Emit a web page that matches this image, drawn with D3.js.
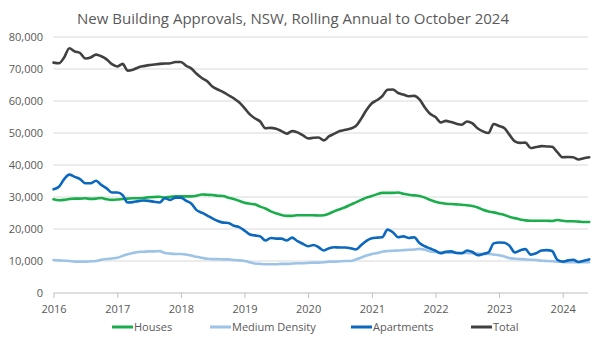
<!DOCTYPE html>
<html>
<head>
<meta charset="utf-8">
<script src="https://cdn.jsdelivr.net/npm/d3@7"></script>
<style>
    body { margin: 0; background: #fff; }
    svg text { font-family: "Open Sans", sans-serif; fill: #595959; }
</style>
</head>
<body>
<svg class="chart" width="601" height="347"></svg>
<script>
// monthly rolling annual totals from Jan 2016, thousands of dwellings
var startYear = 2016, startMonth = 0;

var houses = [29.3, 29.0, 29.1, 29.4, 29.5, 29.5, 29.6, 29.4, 29.5, 29.7, 29.3, 29.1,
    29.2, 29.4, 29.5, 29.6, 29.6, 29.7, 29.9, 30.0, 30.1, 29.8, 30.1, 30.2,
    30.2, 30.2, 30.2, 30.4, 30.8, 30.7, 30.6, 30.4, 30.3, 29.8, 29.4, 28.8,
    28.2, 27.9, 27.7, 27.0, 26.4, 25.5, 24.9, 24.4, 24.1, 24.1, 24.3, 24.3,
    24.3, 24.3, 24.2, 24.3, 24.8, 25.6, 26.2, 26.8, 27.6, 28.3, 29.1, 29.8,
    30.3, 30.9, 31.3, 31.3, 31.3, 31.4, 31.0, 30.7, 30.5, 30.3, 29.8, 29.1,
    28.5, 28.1, 27.9, 27.8, 27.7, 27.6, 27.4, 27.2, 26.7, 26.0, 25.5, 25.2,
    24.8, 24.4, 23.8, 23.4, 23.0, 22.7, 22.6, 22.6, 22.6, 22.6, 22.5, 22.8,
    22.6, 22.4, 22.4, 22.3, 22.2, 22.2];

var mediumDensity = [10.3, 10.2, 10.1, 10.0, 9.8, 9.8, 9.8, 9.9, 10.0, 10.4, 10.6, 10.8,
    11.0, 11.6, 12.1, 12.5, 12.8, 12.9, 13.0, 13.0, 13.1, 12.5, 12.3, 12.2,
    12.2, 12.0, 11.7, 11.3, 11.0, 10.7, 10.6, 10.6, 10.5, 10.5, 10.3, 10.2,
    10.0, 9.6, 9.2, 9.1, 9.0, 9.0, 9.0, 9.1, 9.1, 9.2, 9.3, 9.3,
    9.4, 9.5, 9.5, 9.6, 9.8, 9.8, 9.9, 10.0, 10.0, 10.5, 11.1, 11.7,
    12.2, 12.5, 12.9, 13.1, 13.2, 13.3, 13.4, 13.5, 13.6, 13.8, 13.5, 13.0,
    12.8, 12.7, 12.6, 12.6, 12.6, 12.6, 12.5, 12.4, 12.3, 12.2, 12.2, 12.0,
    11.8, 11.4, 10.9, 10.7, 10.6, 10.5, 10.4, 10.3, 10.1, 10.0, 9.9, 9.8,
    9.7, 9.6, 9.6, 9.6, 9.6, 9.6];

var apartments = [32.4, 33.2, 35.5, 37.0, 36.3, 35.6, 34.3, 34.3, 35.1, 33.8, 32.7, 31.4,
    31.4, 30.6, 28.3, 28.4, 28.7, 28.9, 28.8, 28.5, 28.3, 29.6, 29.1, 29.8,
    29.8, 28.8, 28.0, 25.9, 25.1, 24.2, 23.3, 22.5, 22.0, 21.9, 21.0, 20.6,
    19.5, 18.3, 18.0, 17.7, 16.4, 17.2, 17.0, 17.0, 16.4, 17.3, 16.2, 15.4,
    14.6, 15.0, 14.3, 13.3, 14.0, 14.3, 14.2, 14.2, 14.0, 13.6, 15.0, 16.3,
    17.1, 17.3, 17.4, 19.8, 19.0, 17.4, 17.7, 17.2, 17.4, 15.6, 14.6, 13.9,
    13.2, 12.4, 12.9, 13.0, 12.5, 12.4, 13.3, 12.8, 11.8, 12.2, 12.7, 15.5,
    15.8, 15.7, 14.8, 12.7, 13.3, 13.7, 12.0, 12.4, 13.3, 13.4, 13.1, 10.4,
    9.8, 10.2, 10.4, 9.7, 10.1, 10.5];

var total = [72.0, 71.8, 73.5, 76.5, 75.5, 75.0, 73.3, 73.6, 74.5, 74.0, 73.0, 71.5,
    70.8, 71.6, 69.5, 69.8, 70.5, 70.9, 71.2, 71.4, 71.6, 71.7, 71.8, 72.2,
    72.2, 71.0, 70.2, 68.5, 67.2, 66.2, 64.5, 63.6, 62.8, 61.8, 60.8, 59.6,
    57.8, 55.8, 54.6, 53.6, 51.5, 51.6, 51.3, 50.6, 49.8, 50.6, 50.2, 49.3,
    48.3, 48.5, 48.6, 47.7, 49.0, 49.8, 50.6, 51.0, 51.4, 52.2, 54.5, 57.2,
    59.3, 60.3, 61.5, 63.5, 63.6, 62.5, 62.0, 61.5, 61.6, 60.5, 58.0, 56.0,
    55.0, 53.3, 53.8, 53.4, 52.9, 52.6, 53.6, 53.0, 51.4, 50.5, 50.0, 52.8,
    52.2, 51.5, 49.5, 47.4, 46.9, 47.0, 45.3, 45.6, 45.9, 45.8, 45.7, 44.0,
    42.4, 42.5, 42.4, 41.7, 42.1, 42.4];

var seriesNames = ["Houses", "Medium Density", "Apartments", "Total"];
var seriesColors = ["#1aad4b", "#9dc3e6", "#0b68be", "#404040"];
var yTicks = [0, 10000, 20000, 30000, 40000, 50000, 60000, 70000, 80000];
var xTickYears = [2016, 2017, 2018, 2019, 2020, 2021, 2022, 2023, 2024];
var title = "New Building Approvals, NSW, Rolling Annual to October 2024";

var svg = d3.select("svg.chart");

var x = d3.scaleTime()
    .domain([new Date(2016, 0, 1), new Date(2024, 0, 1)])
    .range([53.5, 562.7]);
var y = d3.scaleLinear().domain([0, 80000]).range([293, 37]);
var plotRight = 588;

function monthDate(i) {
    return new Date(startYear, startMonth + i, 1);
}

// gridlines
svg.selectAll(".grid")
    .data(yTicks.slice(1))
    .enter()
        .append("line")
        .attr("class", "grid")
        .attr("x1", 53.5)
        .attr("x2", plotRight)
        .attr("y1", function(d) { return y(d); })
        .attr("y2", function(d) { return y(d); })
        .attr("stroke", "#d9d9d9")
        .attr("stroke-width", 1);

// y labels
svg.selectAll(".ylab")
    .data(yTicks)
    .enter()
        .append("text")
        .attr("class", "ylab")
        .attr("x", 43)
        .attr("y", function(d) { return y(d); })
        .attr("dy", "0.35em")
        .attr("text-anchor", "end")
        .attr("font-size", "11px")
        .text(function(d) { return d3.format(",")(d); });

// x axis
var xAxis = d3.axisBottom(x)
    .tickValues(xTickYears.map(function(yr) { return new Date(yr, 0, 1); }))
    .tickFormat(d3.timeFormat("%Y"))
    .tickSize(5)
    .tickPadding(7);

var gx = svg.append("g")
    .attr("transform", "translate(0,293)")
    .call(xAxis);
gx.select(".domain").remove();
gx.append("line")
    .attr("x1", 53.5).attr("x2", plotRight)
    .attr("stroke", "#bfbfbf");
gx.selectAll(".tick line").attr("stroke", "#bfbfbf");
gx.selectAll(".tick text")
    .attr("font-size", "11px")
    .attr("font-family", "'Open Sans', sans-serif")
    .attr("fill", "#595959");

// lines
var allSeries = [houses, mediumDensity, apartments, total];
var line = d3.line()
    .x(function(d, i) { return x(monthDate(i)); })
    .y(function(d) { return y(d * 1000); })
    .curve(d3.curveMonotoneX);

svg.selectAll(".series")
    .data(allSeries)
    .enter()
        .append("path")
        .attr("class", "series")
        .attr("d", function(d) { return line(d); })
        .attr("fill", "none")
        .attr("stroke", function(d, i) { return seriesColors[i]; })
        .attr("stroke-width", 2.6)
        .attr("stroke-linejoin", "round")
        .attr("stroke-linecap", "round");

// title
svg.append("text")
    .attr("x", 77)
    .attr("y", 24)
    .attr("font-size", "15px")
    .text(title);

// legend
var legendX = [112, 210, 351, 471];
var legend = svg.selectAll(".legend")
    .data(seriesNames)
    .enter()
        .append("g")
        .attr("class", "legend")
        .attr("transform", function(d, i) { return "translate(" + legendX[i] + ",327)"; });

legend.append("line")
    .attr("x1", 0).attr("x2", 21)
    .attr("stroke", function(d, i) { return seriesColors[i]; })
    .attr("stroke-width", 3);

legend.append("text")
    .attr("x", 22)
    .attr("dy", "0.35em")
    .attr("font-size", "11px")
    .text(function(d) { return d; });
</script>
</body>
</html>
